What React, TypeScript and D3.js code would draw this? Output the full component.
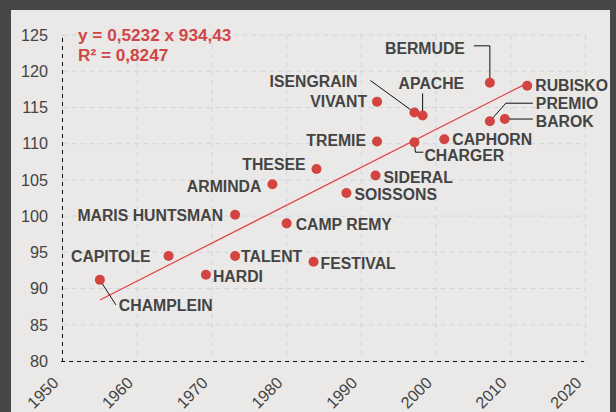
import React from "react";
import * as d3 from "d3";

const names = ["CHAMPLEIN","CAPITOLE","HARDI","TALENT","MARIS HUNTSMAN","CAMP REMY","FESTIVAL","ARMINDA","THESEE","SOISSONS","SIDERAL","TREMIE","VIVANT","ISENGRAIN","APACHE","CHARGER","CAPHORN","BERMUDE","RUBISKO","PREMIO","BAROK"];
const years = [1955.0,1964.2,1969.2,1973.1,1973.1,1980.0,1983.6,1978.1,1984.0,1988.0,1991.9,1992.1,1992.1,1997.1,1998.2,1997.1,2001.1,2007.2,2012.2,2007.2,2009.2];
const yields = [91.2,94.5,91.9,94.5,100.2,99.0,93.7,104.4,106.5,103.2,105.6,110.3,115.8,114.3,113.9,110.2,110.6,118.4,118.0,113.1,113.4];
const xTicks = [1950,1960,1970,1980,1990,2000,2010,2020];
const yTicks = [80,85,90,95,100,105,110,115,120,125];
const slope = 0.5232;
const intercept = -934.43;
const eqLines = ["y = 0,5232 x 934,43", "R² = 0,8247"];

// label layout: [anchor, dx, dy] relative to point; leader as list of offsets (px) from point
type Lay = { a: "start" | "end"; dx: number; dy: number; leader?: [number, number][] };
const layout: Lay[] = [
  { a: "start", dx: 19, dy: 31, leader: [[0, 0], [16, 25]] },
  { a: "end", dx: -18, dy: 6 },
  { a: "start", dx: 7, dy: 7 },
  { a: "start", dx: 6, dy: 6 },
  { a: "end", dx: -12, dy: 6 },
  { a: "start", dx: 9, dy: 7 },
  { a: "start", dx: 7, dy: 7 },
  { a: "end", dx: -11, dy: 8 },
  { a: "end", dx: -11, dy: 1 },
  { a: "start", dx: 8, dy: 7 },
  { a: "start", dx: 8, dy: 7 },
  { a: "end", dx: -11, dy: 5 },
  { a: "end", dx: -10, dy: 5 },
  { a: "end", dx: -57, dy: -26, leader: [[0, 0], [-44, -32]] },
  { a: "start", dx: -24, dy: -26, leader: [[0, 0], [0, -22]] },
  { a: "start", dx: 10, dy: 19, leader: [[0, 0], [1, 10], [9, 10]] },
  { a: "start", dx: 8, dy: 6 },
  { a: "end", dx: -25, dy: -29, leader: [[0, 0], [0, -37], [-16, -37]] },
  { a: "start", dx: 8, dy: 5 },
  { a: "start", dx: 46, dy: -12, leader: [[0, 0], [16, -18], [43, -18]] },
  { a: "start", dx: 31, dy: 8, leader: [[0, 0], [28, 0]] },
];

const W = 616, H = 412;

export default function App() {
  const x = d3.scaleLinear().domain([1950, 2020]).range([62.5, 585.5]);
  const y = d3.scaleLinear().domain([80, 125]).range([361, 35]);
  const xmin = d3.min(years)!, xmax = d3.max(years)!;
  const line = d3.line<number>().x((d) => x(d)).y((d) => y(slope * d + intercept));
  const font = "'Liberation Sans', Arial, Helvetica, sans-serif";
  const grid = "#cdd6e0";
  return (
    <svg width={W} height={H} style={{ position: "absolute", left: 0, top: 0 }} fontFamily={font}>
      <rect x={0} y={0} width={W} height={H} fill="#474745" />
      <rect x={11} y={10} width={599} height={H} fill="#ebe9e7" />
      {yTicks.map((t) => (
        <line key={"gy" + t} x1={62.5} x2={586} y1={y(t)} y2={y(t)} stroke={grid} strokeDasharray="5,4" strokeWidth={1} />
      ))}
      {xTicks.map((t) => (
        <line key={"gx" + t} x1={x(t)} x2={x(t)} y1={35} y2={359} stroke={grid} strokeDasharray="5,4" strokeWidth={1} />
      ))}
      <line x1={62.5} x2={62.5} y1={38} y2={361} stroke="#111" strokeDasharray="4,4" strokeWidth={1} />
      <line x1={61} x2={584} y1={361.5} y2={361.5} stroke="#111" strokeDasharray="4,4" strokeWidth={1} />
      {yTicks.map((t) => (
        <text key={"ty" + t} x={48} y={y(t) + 5.8} textAnchor="end" fontSize={16.2} fill="#444">{t}</text>
      ))}
      {xTicks.map((t) => (
        <text key={"tx" + t} transform={`translate(${x(t) - 3},${384}) rotate(-45)`} textAnchor="end" fontSize={16.2} fill="#444">{t}</text>
      ))}
      <path d={line([xmin, xmax]) || ""} stroke="#e0404a" strokeWidth={1.2} fill="none" />
      {names.map((n, i) => {
        const lay = layout[i];
        const px = x(years[i]), py = y(yields[i]);
        return (
          <g key={n}>
            {lay.leader && (
              <polyline points={lay.leader.map(([a, b]) => `${px + a},${py + b}`).join(" ")} fill="none" stroke="#111" strokeWidth={1} />
            )}
          </g>
        );
      })}
      {names.map((n, i) => {
        const px = x(years[i]), py = y(yields[i]);
        return <circle key={"c" + n} cx={px} cy={py} r={5} fill="#d14441" />;
      })}
      {names.map((n, i) => {
        const lay = layout[i];
        const px = x(years[i]), py = y(yields[i]);
        return (
          <text key={"l" + n} x={px + lay.dx} y={py + lay.dy} textAnchor={lay.a} fontSize={15.8} fontWeight="bold" fill="#444">{n}</text>
        );
      })}
      {eqLines.map((s, i) => (
        <text key={"eq" + i} x={78} y={40.5 + i * 20.5} fontSize={17.2} fontWeight="bold" fill="#d04646">{s}</text>
      ))}
    </svg>
  );
}
